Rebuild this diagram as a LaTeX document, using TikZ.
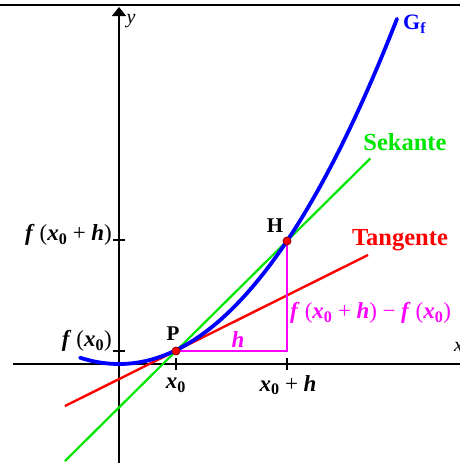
\documentclass[tikz,border=0pt]{standalone}
\usepackage{fontspec}
\setmainfont{Liberation Serif}
\usetikzlibrary{arrows.meta,calc}
\newcommand\bi[1]{\textbf{\textit{#1}}}
\newcommand\sbz{\textsubscript{\textbf{0}}}
\newcommand\op[1]{\hspace{0.24em}#1\hspace{0.24em}}
\newcommand\fsp{\hspace{0.22em}}
\definecolor{curveblue}{RGB}{0,0,255}
\definecolor{secgreen}{RGB}{0,230,0}
\definecolor{tanred}{RGB}{255,0,0}
\definecolor{mag}{RGB}{255,0,255}
\tikzset{
  axis/.style={line width=1.4pt,black},
  tick/.style={line width=1.2pt,black},
  tanline/.style={line width=2.4pt,tanred},
  secline/.style={line width=2.2pt,secgreen},
  graphline/.style={line width=3.8pt,curveblue},
  magline/.style={line width=1.4pt,mag},
  pt/.style={circle,fill=red,draw=red!55!black,line width=0.8pt,inner sep=0pt,minimum size=8pt},
  mathlbl/.style={inner sep=0pt,font=\fontsize{23}{25}\selectfont},
  bigname/.style={inner sep=0pt,font=\fontsize{24.5}{26}\selectfont\bfseries},
  ptname/.style={inner sep=0pt,font=\fontsize{21}{23}\selectfont\bfseries},
}
\begin{document}
\begin{tikzpicture}[x=1pt,y=-1pt]
\useasboundingbox (0,0) rectangle (460,463);
% frame top line
\coordinate (fl) at (0,5);
\coordinate (fr) at (460,5);
\draw[line width=1.4pt] (fl) -- (fr);
% axes
\coordinate (O) at (119,364);
\coordinate (xl) at (13,364);
\coordinate (xr) at (462,364);
\coordinate (yb) at (119,463);
\coordinate (yt) at (119,7);
\draw[axis] (xl) -- (xr);
\draw[axis,-{Triangle[length=9pt,width=14pt]}] (yb) -- (yt);
\node[inner sep=0pt,font=\fontsize{20}{22}\selectfont\itshape] (ylab) at (131,21) {y};
\node[inner sep=0pt,anchor=west,font=\fontsize{20}{22}\selectfont\itshape] (xlab) at (454,347) {x};
% points
\coordinate (Px) at (176,364);
\coordinate (Hx) at (287,364);
\coordinate (Py) at (119,351);
\coordinate (Hy) at (119,240);
% ticks
\draw[tick] ($(Px)+(0,-6)$) -- ($(Px)+(0,6)$);
\draw[tick] ($(Hx)+(0,-6)$) -- ($(Hx)+(0,6)$);
\draw[tick] ($(Py)+(-6,0)$) -- ($(Py)+(6,0)$);
\draw[tick] ($(Hy)+(-6,0)$) -- ($(Hy)+(6,0)$);
% tangent and secant
\coordinate (Pc) at (176,351);
\coordinate (Hc) at (287,241);
\coordinate (tA) at (65,406);
\coordinate (tB) at (368,255);
\draw[tanline] (tA) -- (tB);
\coordinate (sA) at ($(Pc)!-1!(Hc)$);
\coordinate (sB) at ($(Pc)!1.75!(Hc)$);
\draw[secline] (sA) -- (sB);
% graph
\draw[graphline,line cap=round] plot[domain=-39:278,samples=120,smooth]
  ({119+\x},{364-100*(0.0096*(\x/100)*(\x/100)*(\x/100)+0.42*(\x/100)*(\x/100))});
% slope triangle
\coordinate (C) at (287,351);
\draw[magline] (Pc) -- (C) -- (Hc);
\node[pt] (P) at (Pc) {};
\node[pt] (H) at (Hc) {};
% labels
\node[ptname] (Plab) at (173,334) {P};
\node[ptname] (Hlab) at (275,226) {H};
\node[inner sep=0pt,font=\fontsize{22}{24}\selectfont\bfseries,text=curveblue,anchor=west] (Gf) at (403,24) {G\textsubscript{f}};
\node[bigname,text=secgreen] (sek) at (405,142) {Sekante};
\node[bigname,text=tanred] (tang) at (400,240) {Tangente};
\node[mathlbl,anchor=east] (fx0) at (112,341) {\bi{f}\fsp(\bi{x}\sbz)};
\node[mathlbl,anchor=east] (fxh) at (112,235) {\bi{f}\fsp(\bi{x}\sbz\op{+}\bi{h})};
\node[mathlbl] (x0) at (176,385) {\bi{x}\sbz};
\node[mathlbl] (x0h) at (288,385) {\bi{x}\sbz\op{+}\bi{h}};
\node[mathlbl,text=mag] (hlab) at (238,340) {\bi{h}};
\node[mathlbl,text=mag,anchor=west] (diff) at (290,313) {\bi{f}\fsp(\bi{x}\sbz\op{+}\bi{h})\op{−}\bi{f}\fsp(\bi{x}\sbz)};
\end{tikzpicture}
\end{document}
